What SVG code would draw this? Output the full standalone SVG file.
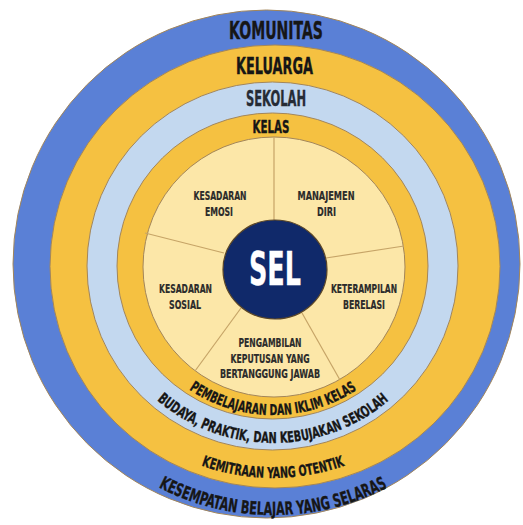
<svg xmlns="http://www.w3.org/2000/svg" width="523" height="525" viewBox="0 0 523 525">
<defs>
<style>
.ring{stroke:#a3865a;stroke-width:1}
.t{font-family:"Liberation Sans Narrow","DejaVu Sans Condensed","Liberation Sans",Arial,sans-serif;font-weight:bold;fill:#161616;stroke:#161616;stroke-width:0.35;text-anchor:middle}
.pl{font-size:13px;fill:#2b2b2b;stroke:#2b2b2b;stroke-width:0.2}
.arc{font-size:15px}
.div{stroke:#c6a467;stroke-width:1.2}
</style>
<path id="a1" d="M142.2,339.5 A151,151 0 0 0 403.8,339.5"/>
<path id="a2" d="M118,353.5 A179,179 0 0 0 428,353.5"/>
<path id="a3" d="M87.7,371 A214,214 0 0 0 458.3,371"/>
<path id="a4" d="M55.6,389.5 A251,251 0 0 0 490.4,389.5"/>
</defs>
<rect width="523" height="525" fill="#ffffff"/>
<g id="komunitas">
<ellipse class="ring" cx="266.5" cy="264" rx="253.5" ry="254" fill="#5a80d6"/>
<text class="t" x="276" y="38.5" font-size="24" textLength="94" lengthAdjust="spacingAndGlyphs">KOMUNITAS</text>
<text class="t" font-size="18"><textPath href="#a4" startOffset="50%" textLength="238" lengthAdjust="spacingAndGlyphs">KESEMPATAN BELAJAR YANG SELARAS</textPath></text>
</g>
<g id="keluarga">
<ellipse class="ring" cx="275" cy="266.5" rx="225" ry="221.5" fill="#f5c141"/>
<text class="t" x="274.5" y="74" font-size="23" textLength="77" lengthAdjust="spacingAndGlyphs">KELUARGA</text>
<text class="t arc"><textPath href="#a3" startOffset="50%" textLength="146" lengthAdjust="spacingAndGlyphs">KEMITRAAN YANG OTENTIK</textPath></text>
</g>
<g id="sekolah">
<ellipse class="ring" cx="272.5" cy="266" rx="185.5" ry="184" fill="#c3d8ef"/>
<text class="t" x="276" y="106" font-size="21" textLength="60" lengthAdjust="spacingAndGlyphs" style="fill:#262c36;stroke:#262c36">SEKOLAH</text>
<text class="t arc"><textPath href="#a2" startOffset="50%" textLength="252" lengthAdjust="spacingAndGlyphs">BUDAYA, PRAKTIK, DAN KEBUJAKAN SEKOLAH</textPath></text>
</g>
<g id="kelas">
<ellipse class="ring" cx="272.5" cy="266" rx="155.5" ry="153" fill="#f5c141"/>
<text class="t" x="271" y="133" font-size="17" textLength="37" lengthAdjust="spacingAndGlyphs">KELAS</text>
<text class="t arc"><textPath href="#a1" startOffset="50%" textLength="178" lengthAdjust="spacingAndGlyphs">PEMBELAJARAN DAN IKLIM KELAS</textPath></text>
</g>
<g id="kompetensi">
<ellipse class="ring" cx="274" cy="267" rx="131" ry="130" fill="#fce7a8"/>
</g>
<g id="connectors">
<line class="div" x1="274" y1="137" x2="274" y2="220"/>
<line class="div" x1="145" y1="233" x2="224" y2="253"/>
<line class="div" x1="326" y1="258" x2="404" y2="246"/>
<line class="div" x1="241" y1="308" x2="195" y2="371"/>
<line class="div" x1="302" y1="313" x2="340" y2="380"/>
</g>
<g id="kesadaran-emosi">
<text class="t pl" x="220" y="200" textLength="53" lengthAdjust="spacingAndGlyphs">KESADARAN</text>
<text class="t pl" x="219" y="215.7" textLength="28" lengthAdjust="spacingAndGlyphs">EMOSI</text>
</g>
<g id="manajemen-diri">
<text class="t pl" x="326" y="200" textLength="57" lengthAdjust="spacingAndGlyphs">MANAJEMEN</text>
<text class="t pl" x="326.5" y="215.5" textLength="19" lengthAdjust="spacingAndGlyphs">DIRI</text>
</g>
<g id="kesadaran-sosial">
<text class="t pl" x="185.5" y="293" textLength="53" lengthAdjust="spacingAndGlyphs">KESADARAN</text>
<text class="t pl" x="185" y="309" textLength="32" lengthAdjust="spacingAndGlyphs">SOSIAL</text>
</g>
<g id="keterampilan-berelasi">
<text class="t pl" x="364" y="293" textLength="66" lengthAdjust="spacingAndGlyphs">KETERAMPILAN</text>
<text class="t pl" x="364" y="309" textLength="42" lengthAdjust="spacingAndGlyphs">BERELASI</text>
</g>
<g id="pengambilan-keputusan">
<text class="t pl" x="270" y="347" textLength="63" lengthAdjust="spacingAndGlyphs">PENGAMBILAN</text>
<text class="t pl" x="270" y="363" textLength="79" lengthAdjust="spacingAndGlyphs">KEPUTUSAN YANG</text>
<text class="t pl" x="270" y="378" textLength="100" lengthAdjust="spacingAndGlyphs">BERTANGGUNG JAWAB</text>
</g>
<g id="sel">
<ellipse cx="275" cy="269.5" rx="52" ry="49.5" fill="#10296a" stroke="#5a4628" stroke-width="1.2"/>
<text class="t" x="275" y="285" font-size="46" textLength="52" lengthAdjust="spacingAndGlyphs" style="fill:#ffffff;stroke:#ffffff;stroke-width:0.3">SEL</text>
</g>
</svg>
